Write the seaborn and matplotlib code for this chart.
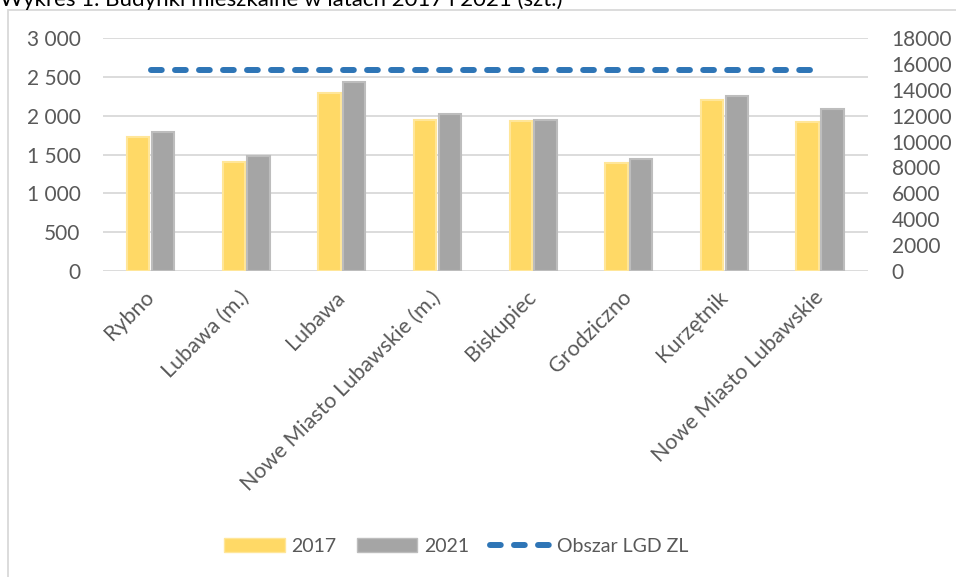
import numpy as np
import pandas as pd
import matplotlib.pyplot as plt
import seaborn as sns
from matplotlib.patches import Patch, Rectangle
from matplotlib.lines import Line2D
from matplotlib.ticker import FuncFormatter

# --- data ---
gminy = ["Rybno", "Lubawa (m.)", "Lubawa", "Nowe Miasto Lubawskie (m.)",
         "Biskupiec", "Grodziczno", "Kurzętnik", "Nowe Miasto Lubawskie"]
budynki_2017 = [1725, 1405, 2290, 1945, 1928, 1390, 2200, 1920]
budynki_2021 = [1795, 1480, 2432, 2020, 1945, 1438, 2255, 2090]
obszar_lgd = [15560, 15560, 15560, 15560, 15560, 15560, 15560, 15560]
lata = ["2017", "2021"]
lewe_ticki = [0, 500, 1000, 1500, 2000, 2500, 3000]
prawe_ticki = [0, 2000, 4000, 6000, 8000, 10000, 12000, 14000, 16000, 18000]

kolory = ["#FFD966", "#A5A5A5"]
krawedzie = ["#FFE699", "#BDBDBD"]
niebieski = "#2E75B6"
szary_tekst = "#595959"
kreski = (1.8, 2.22)

df = pd.DataFrame({
    "gmina": gminy * 2,
    "rok": [lata[0]] * len(gminy) + [lata[1]] * len(gminy),
    "budynki": budynki_2017 + budynki_2021,
})

sns.set_theme(style="white")
plt.rcParams['font.family'] = ['Lato', 'DejaVu Sans']

fig = plt.figure(figsize=(9.56, 5.77), dpi=100)
ax = fig.add_axes([0.1074, 0.5308, 0.8005, 0.4028])

sns.barplot(data=df, x="gmina", y="budynki", hue="rok", palette=kolory, saturation=1,
            width=0.52, gap=0.1, linewidth=1.5, legend=False, ax=ax)
for cont, ec in zip(ax.containers, krawedzie):
    for bar in cont:
        bar.set_edgecolor(ec)

ax.set_ylim(0, 3000)
ax.set_yticks(lewe_ticki)
ax.yaxis.set_major_formatter(FuncFormatter(lambda v, p: f"{v:,.0f}".replace(",", " ")))
ax.yaxis.grid(True, color="#D9D9D9", linewidth=1.3)
ax.set_axisbelow(True)
ax.set_xlabel("")
ax.set_ylabel("")
for s in ax.spines.values():
    s.set_visible(False)
ax.tick_params(axis="y", length=0, pad=16, labelsize=15, labelcolor=szary_tekst)
ax.tick_params(axis="x", length=0, pad=17, labelsize=15.5, labelcolor=szary_tekst)
for lbl in ax.get_xticklabels():
    lbl.set_rotation(45)
    lbl.set_ha("right")
    lbl.set_va("center")
    lbl.set_rotation_mode("anchor")

# secondary axis: whole LGD area
ax2 = ax.twinx()
ax2.plot(np.arange(len(gminy)), obszar_lgd, color=niebieski, lw=4.3,
         dashes=kreski, dash_capstyle="round")
ax2.set_ylim(0, 18000)
ax2.set_yticks(prawe_ticki)
ax2.set_ylabel("")
for s in ax2.spines.values():
    s.set_visible(False)
ax2.tick_params(axis="y", length=0, pad=17, labelsize=15, labelcolor=szary_tekst)
ax.set_xlim(-0.5, len(gminy) - 0.5)

# legend
uchwyty = [Patch(facecolor=kolory[0], edgecolor=krawedzie[0]),
           Patch(facecolor=kolory[1], edgecolor=krawedzie[1]),
           Line2D([0], [0], color=niebieski, lw=4.3, dashes=kreski, dash_capstyle="round")]
fig.legend(handles=uchwyty, labels=lata + ["Obszar LGD ZL"], loc="center",
           bbox_to_anchor=(456.5 / 956, 1 - 546.7 / 577), ncol=3, frameon=False,
           fontsize=14, handlelength=3.1, handleheight=0.72, handletextpad=0.36,
           columnspacing=1.05, labelcolor=szary_tekst)

# chart frame and the cut-off title above it
fig.add_artist(Rectangle((8 / 956, -0.1), 1.2, 1.1 - 10 / 577, transform=fig.transFigure,
                         fill=False, edgecolor="#D9D9D9", lw=1.3))
fig.text(0, 1 - 6 / 577, "Wykres 1. Budynki mieszkalne w latach 2017 i 2021 (szt.)",
         ha="left", va="baseline", fontsize=16, color="black")

fig.savefig("out.png", dpi=100)
